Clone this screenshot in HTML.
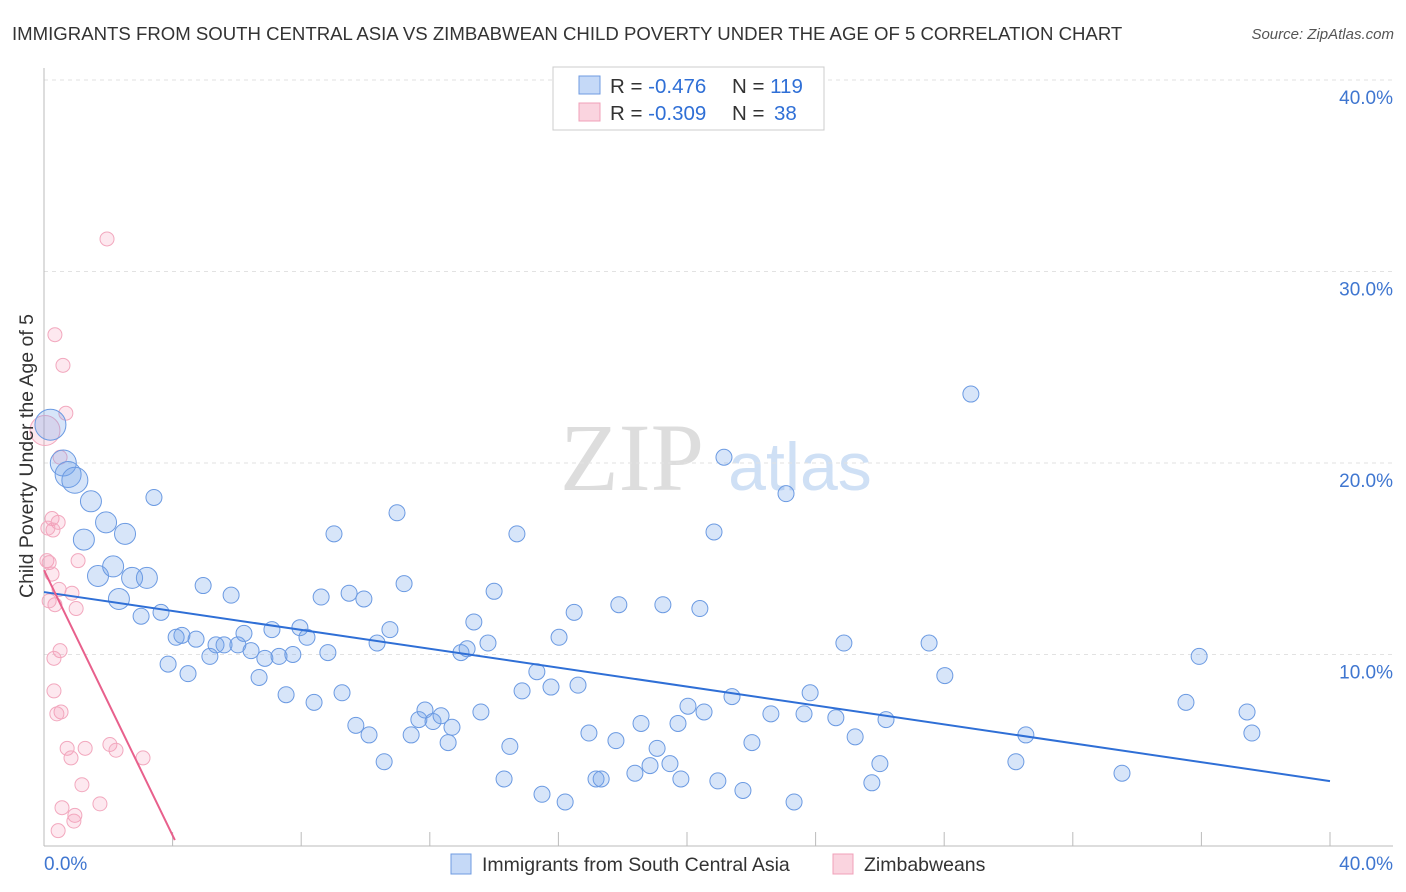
<!DOCTYPE html>
<html><head><meta charset="utf-8">
<style>
body{margin:0;background:#fff;font-family:"Liberation Sans",sans-serif;}
#wrap{position:relative;width:1406px;height:892px;overflow:hidden;}
</style></head>
<body>
<div id="wrap">
<svg id="chart" width="1406" height="892" xmlns="http://www.w3.org/2000/svg">
<text x="12" y="40" font-size="18.6" fill="#333">IMMIGRANTS FROM SOUTH CENTRAL ASIA VS ZIMBABWEAN CHILD POVERTY UNDER THE AGE OF 5 CORRELATION CHART</text>
<text x="1394" y="39" font-size="15" fill="#555" font-style="italic" text-anchor="end">Source: ZipAtlas.com</text>
<g>
<text x="632" y="490" font-size="96" fill="#ddd" font-family="Liberation Serif,serif" text-anchor="middle">ZIP</text>
<text x="800" y="490" font-size="68" fill="#cfe0f5" text-anchor="middle">atlas</text>
</g>
<g id="grid"></g>
<g id="axes"></g>
<g id="points"></g>
<g id="trends"></g>
<text transform="translate(33,456) rotate(-90)" font-size="19.5" fill="#333" text-anchor="middle">Child Poverty Under the Age of 5</text>
<g>
<rect x="553" y="67" width="271" height="63" fill="#fff" stroke="#ccc"/>
<rect x="579" y="76" width="21" height="18" fill="rgba(110,160,235,0.4)" stroke="#6f9be0"/>
<rect x="579" y="103" width="21" height="18" fill="rgba(245,160,185,0.45)" stroke="#f0a0b8"/>
<text x="610" y="93" font-size="20.5" fill="#333">R = <tspan fill="#2f6fd6">-0.476</tspan><tspan x="732">N = </tspan><tspan fill="#2f6fd6">119</tspan></text>
<text x="610" y="120" font-size="20.5" fill="#333">R = <tspan fill="#2f6fd6">-0.309</tspan><tspan x="732">N = </tspan><tspan fill="#2f6fd6" x="774">38</tspan></text>
</g>
<g>
<rect x="451" y="854" width="20" height="20" fill="rgba(110,160,235,0.4)" stroke="#6f9be0"/>
<text x="482" y="871" font-size="19.5" fill="#333">Immigrants from South Central Asia</text>
<rect x="833" y="854" width="20" height="20" fill="rgba(245,160,185,0.45)" stroke="#f0a0b8"/>
<text x="864" y="871" font-size="19.5" fill="#333">Zimbabweans</text>
</g>
</svg>
</div>
<script>
const yTicks=[10,20,30,40];
const yTickLabels=["10.0%","20.0%","30.0%","40.0%"];
const xTicks=[0,4,8,12,16,20,24,28,32,36,40];
const xTickLabels=["0.0%","40.0%"];
const blueX=[0.2,0.6,0.75,0.96,1.46,1.24,1.93,2.52,1.68,2.15,2.74,3.2,2.33,3.02,3.64,3.42,3.86,4.11,4.29,4.48,4.73,4.95,5.16,5.35,5.6,5.82,6.03,6.22,6.44,6.69,6.87,7.09,7.31,7.53,7.74,7.96,8.18,8.4,8.62,8.83,9.02,9.27,9.49,9.7,9.95,10.11,10.36,10.58,10.76,10.98,11.2,11.42,11.66,11.85,12.1,12.35,12.57,12.69,12.97,13.16,13.37,13.59,13.81,14.0,14.31,14.49,14.71,14.87,15.33,15.49,15.77,16.02,16.21,16.49,16.61,16.95,17.17,17.33,17.79,17.88,18.38,18.57,18.85,19.07,19.25,19.47,19.72,19.81,20.03,20.4,20.53,20.84,20.96,21.15,21.4,21.74,22.02,22.61,23.08,23.33,23.64,23.83,24.63,24.88,25.23,25.75,26.0,26.19,27.53,28.02,28.83,30.23,30.54,33.53,35.52,35.93,37.42,37.57];
const blueY=[22.0,20.0,19.4,19.1,18.0,16.0,16.9,16.3,14.1,14.6,14.0,14.0,12.9,12.0,12.2,18.2,9.5,10.9,11.0,9.0,10.8,13.6,9.9,10.5,10.5,13.1,10.5,11.1,10.2,8.8,9.8,11.3,9.9,7.9,10.0,11.4,10.9,7.5,13.0,10.1,16.3,8.0,13.2,6.3,12.9,5.8,10.6,4.4,11.3,17.4,13.7,5.8,6.6,7.1,6.5,6.8,5.4,6.2,10.1,10.3,11.7,7.0,10.6,13.3,3.5,5.2,16.3,8.1,9.1,2.7,8.3,10.9,2.3,12.2,8.4,5.9,3.5,3.5,5.5,12.6,3.8,6.4,4.2,5.1,12.6,4.3,6.4,3.5,7.3,12.4,7.0,16.4,3.4,20.3,7.8,2.9,5.4,6.9,18.4,2.3,6.9,8.0,6.7,10.6,5.7,3.3,4.3,6.6,10.6,8.9,23.6,4.4,5.8,3.8,7.5,9.9,7.0,5.9];
const blueW=[4,3,3,3,2,2,2,2,2,2,2,2,2];
const pinkX=[1.96,0.34,0.59,0.68,0.03,0.5,0.25,0.44,0.28,0.12,0.09,1.06,0.16,0.47,0.87,0.34,1.0,0.5,0.31,0.31,0.53,0.4,0.72,0.84,1.28,2.05,2.24,3.08,1.18,0.56,1.74,0.96,0.93,0.44,0.25,0.16];
const pinkY=[31.7,26.7,25.1,22.6,21.7,20.3,17.1,16.9,16.5,16.6,14.9,14.9,14.8,13.4,13.2,12.6,12.4,10.2,9.8,8.1,7.0,6.9,5.1,4.6,5.1,5.3,5.0,4.6,3.2,2.0,2.2,1.6,1.3,0.8,14.2,12.8];
const pinkW=[1,1,1,1,3,1];
const blueTrend=[13.26,3.39];
const pinkTrend=[[0,14.4],[4.07,0.31]];

const X0=44,X1=1330,Y0=846,Y1=80;
const sx=v=>X0+(X1-X0)*v/40;
const sy=v=>Y0-(Y0-Y1)*v/40;
const NS="http://www.w3.org/2000/svg";
function mk(tag,attrs,parent){const e=document.createElementNS(NS,tag);for(const k in attrs)e.setAttribute(k,attrs[k]);parent.appendChild(e);return e;}
const grid=document.getElementById('grid'),axes=document.getElementById('axes'),pts=document.getElementById('points'),tr=document.getElementById('trends');
yTicks.forEach((t,i)=>{
 const l=mk('line',{x1:44,x2:1393,y1:sy(t),y2:sy(t),stroke:'#e2e2e2','stroke-dasharray':'4,4'},grid);
 
 
 const tx=mk('text',{x:1393,y:sy(t)+24,'font-size':19,fill:'#3f76d0','text-anchor':'end'},axes);
 tx.textContent=yTickLabels[i];
 
 
});
const ax=mk('line',{x1:44,x2:44,y1:68,y2:846,stroke:'#bbb'},axes);


const bx=mk('line',{x1:44,x2:1393,y1:846,y2:846,stroke:'#bbb'},axes);


xTicks.forEach(t=>{const l=mk('line',{x1:sx(t),x2:sx(t),y1:832,y2:846,stroke:'#bbb'},axes);
 
 });
[[0,'start',44],[40,'end',1393]].forEach((d,i)=>{const t=mk('text',{x:d[2],y:870,'font-size':19,fill:'#3f76d0','text-anchor':d[1]},axes);t.textContent=xTickLabels[i];
 
 });
pinkX.forEach((x,i)=>{const w=pinkW[i]||1;const c=mk('circle',{cx:sx(x),cy:sy(pinkY[i]),r:7+ (w-1)*4,fill:'rgba(245,150,180,0.22)',stroke:'#f2a8be','stroke-width':1},pts);
 
 });
blueX.forEach((x,i)=>{const w=blueW[i]||1;const c=mk('circle',{cx:sx(x),cy:sy(blueY[i]),r:8+(w-1)*2.5,fill:'rgba(110,160,235,0.28)',stroke:'#6b9ae2','stroke-width':1},pts);
 
 });
const bl=mk('line',{x1:sx(0),y1:sy(blueTrend[0]),x2:sx(40),y2:sy(blueTrend[1]),stroke:'#2f6fd6','stroke-width':2},tr);


const pl=mk('line',{x1:sx(pinkTrend[0][0]),y1:sy(pinkTrend[0][1]),x2:sx(pinkTrend[1][0]),y2:sy(pinkTrend[1][1]),stroke:'#e8608c','stroke-width':2},tr);


</script>
</body></html>
